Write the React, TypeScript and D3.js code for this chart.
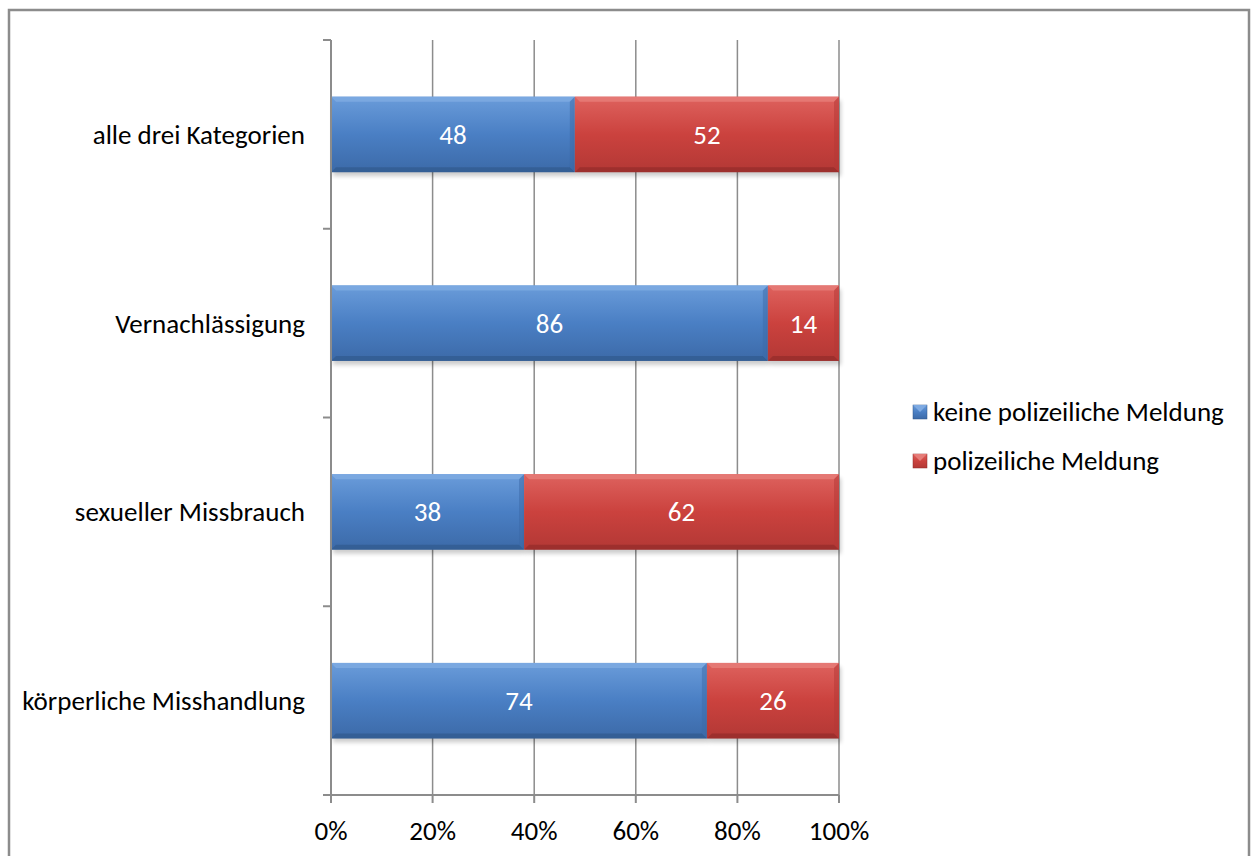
import React from "react";
import * as d3 from "d3";

const categories = ["alle drei Kategorien", "Vernachlässigung", "sexueller Missbrauch", "körperliche Misshandlung"];
const keineMeldung = [48, 86, 38, 74];
const meldung = [52, 14, 62, 26];
const seriesNames = ["keine polizeiliche Meldung", "polizeiliche Meldung"];
const xTicks = [0, 20, 40, 60, 80, 100];

const W = 1256, H = 856;
const left = 331, right = 839, top = 40, bottom = 795;
const FONT = "Carlito, Calibri, 'Open Sans', 'Liberation Sans', sans-serif";
const FS = 27;

export default function App() {
  const x = d3.scaleLinear().domain([0, 100]).range([left, right]);
  const y = d3.scaleBand<string>().domain(categories).range([top, bottom]).paddingInner(0.6).paddingOuter(0.3);
  const yTickPos = d3.range(categories.length + 1).map(i => top + (i * (bottom - top)) / categories.length);
  const colors = [
    { id: "blue", top: "#6a9cda", mid: "#4a7fc4", bot: "#3c6aa8", edgeL: "#7eaae2", edgeD: "#2f5689" },
    { id: "red", top: "#de625e", mid: "#cb423e", bot: "#b33835", edgeL: "#e67c78", edgeD: "#8e2a28" },
  ];
  const bh = y.bandwidth();
  const bev = 5;

  const bar = (x0: number, x1: number, yy: number, c: typeof colors[0], key: string) => {
    const w = x1 - x0;
    return (
      <g key={key}>
        <rect x={x0 + 2} y={yy + 4} width={w} height={bh} fill="#000" opacity={0.2} filter="url(#blur)" />
        <rect x={x0} y={yy} width={w} height={bh} fill={`url(#g-${c.id})`} />
        <polygon points={`${x0},${yy} ${x1},${yy} ${x1 - bev},${yy + bev} ${x0 + bev},${yy + bev}`} fill={c.edgeL} opacity={0.85} />
        <polygon points={`${x0},${yy + bh} ${x1},${yy + bh} ${x1 - bev},${yy + bh - bev} ${x0 + bev},${yy + bh - bev}`} fill={c.edgeD} opacity={0.6} />
        <polygon points={`${x1},${yy} ${x1 - bev},${yy + bev} ${x1 - bev},${yy + bh - bev} ${x1},${yy + bh}`} fill={c.bot} opacity={0.5} />
      </g>
    );
  };

  return (
    <svg width={W} height={H} style={{ position: "absolute", left: 0, top: 0 }} fontFamily={FONT}>
      <defs>
        {colors.map(c => (
          <linearGradient key={c.id} id={`g-${c.id}`} x1="0" y1="0" x2="0" y2="1">
            <stop offset="0" stopColor={c.top} />
            <stop offset="0.5" stopColor={c.mid} />
            <stop offset="1" stopColor={c.bot} />
          </linearGradient>
        ))}
        <filter id="blur" x="-10%" y="-30%" width="120%" height="160%">
          <feGaussianBlur stdDeviation="2" />
        </filter>
      </defs>
      <rect x={0} y={0} width={W} height={H} fill="#fff" />
      <rect x={9} y={10} width={1240} height={H + 10} fill="none" stroke="#8c8c8c" strokeWidth={2.5} />
      {xTicks.slice(1).map(t => (
        <line key={t} x1={x(t)} x2={x(t)} y1={top} y2={bottom} stroke="#8c8c8c" strokeWidth={1.5} />
      ))}
      {categories.map((c, i) => {
        const yy = y(c)!;
        return (
          <g key={c}>
            {bar(x(0), x(keineMeldung[i]), yy, colors[0], "a")}
            {bar(x(keineMeldung[i]), x(keineMeldung[i] + meldung[i]), yy, colors[1], "b")}
            <text x={(x(0) + x(keineMeldung[i])) / 2} y={yy + bh / 2} dy="0.35em" textAnchor="middle" fill="#fff" fontSize={FS}>{keineMeldung[i]}</text>
            <text x={(x(keineMeldung[i]) + x(100)) / 2} y={yy + bh / 2} dy="0.35em" textAnchor="middle" fill="#fff" fontSize={FS}>{meldung[i]}</text>
            <text x={305} y={yy + bh / 2} dy="0.35em" textAnchor="end" fill="#000" fontSize={FS}>{c}</text>
          </g>
        );
      })}
      <line x1={left} x2={left} y1={top} y2={bottom} stroke="#8c8c8c" strokeWidth={2} />
      {yTickPos.map((p, i) => (
        <line key={i} x1={323} x2={left} y1={p} y2={p} stroke="#8c8c8c" strokeWidth={2} />
      ))}
      <line x1={323} x2={right} y1={bottom} y2={bottom} stroke="#8c8c8c" strokeWidth={2} />
      {xTicks.map(t => (
        <g key={t}>
          <line x1={x(t)} x2={x(t)} y1={bottom} y2={bottom + 8} stroke="#8c8c8c" strokeWidth={2} />
          <text x={x(t)} y={831} dy="0.35em" textAnchor="middle" fontSize={FS} fill="#000">{t}%</text>
        </g>
      ))}
      {seriesNames.map((s, i) => (
        <g key={s} transform={`translate(913, ${412 + i * 49})`}>
          <rect x={0} y={-7} width={14} height={14} fill={`url(#g-${colors[i].id})`} stroke={colors[i].edgeD} strokeWidth={0.5} />
          <polygon points="0,-7 14,-7 7,0" fill={colors[i].edgeL} />
          <text x={20} y={0} dy="0.35em" fontSize={FS} fill="#000">{s}</text>
        </g>
      ))}
    </svg>
  );
}
